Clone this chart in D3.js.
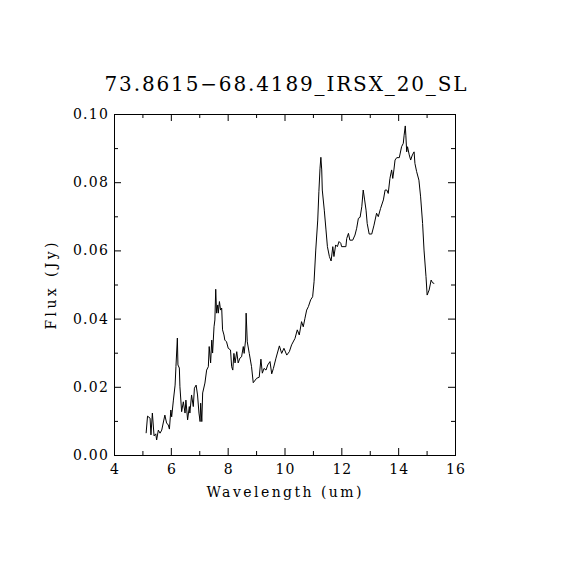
<!DOCTYPE html>
<html>
<head>
<meta charset="utf-8">
<script src="https://cdn.jsdelivr.net/npm/d3@7/dist/d3.min.js"></script>
<style>
  body { margin: 0; background: #fff; }
  svg text { font-family: 'DejaVu Serif', serif; fill: #000; }
</style>
</head>
<body>
<div id="chart"></div>
<script>
// spectrum
var wavelength = [
  5.13, 5.18, 5.27, 5.30, 5.35, 5.41, 5.47, 5.50, 5.56, 5.62, 5.68, 5.79, 5.85, 5.91, 5.95,
  6.00, 6.03, 6.09, 6.15, 6.18, 6.23, 6.25, 6.30, 6.32, 6.38, 6.44, 6.50, 6.53, 6.59, 6.65,
  6.67, 6.73, 6.79, 6.83, 6.89, 6.94, 6.99, 7.03, 7.05, 7.09, 7.12, 7.20, 7.26, 7.32, 7.35,
  7.40, 7.44, 7.47, 7.52, 7.55, 7.58, 7.61, 7.65, 7.67, 7.71, 7.75, 7.79, 7.82, 7.87, 7.90,
  7.96, 8.02, 8.10, 8.14, 8.18, 8.22, 8.26, 8.32, 8.37, 8.43, 8.49, 8.55, 8.58, 8.63, 8.65,
  8.69, 8.76, 8.84, 8.90, 9.02, 9.11, 9.17, 9.22, 9.28, 9.35, 9.41, 9.49, 9.55, 9.61, 9.70,
  9.82, 9.90, 9.98, 10.08, 10.17, 10.25, 10.37, 10.45, 10.52, 10.60, 10.66, 10.72, 10.78, 10.84, 10.92,
  10.99, 11.04, 11.10, 11.17, 11.21, 11.25, 11.28, 11.31, 11.33, 11.40, 11.46, 11.51, 11.58, 11.64, 11.70,
  11.74, 11.80, 11.86, 11.92, 11.98, 12.01, 12.16, 12.19, 12.25, 12.30, 12.40, 12.48, 12.54, 12.60, 12.66,
  12.72, 12.77, 12.82, 12.87, 12.91, 12.98, 13.07, 13.15, 13.24, 13.30, 13.38, 13.48, 13.54, 13.60, 13.65,
  13.71, 13.77, 13.81, 13.85, 13.89, 13.95, 14.04, 14.12, 14.18, 14.21, 14.25, 14.27, 14.30, 14.33, 14.39,
  14.44, 14.50, 14.56, 14.59, 14.65, 14.73, 14.79, 14.86, 14.91, 14.98, 15.02, 15.09, 15.16, 15.21, 15.27
];
var flux = [
  0.0064, 0.0114, 0.0108, 0.0059, 0.0123, 0.0056, 0.0062, 0.0044, 0.0073, 0.0064, 0.0073, 0.0117, 0.0094, 0.0088, 0.0076,
  0.0132, 0.0112, 0.0161, 0.0205, 0.0259, 0.0343, 0.0264, 0.0255, 0.0200, 0.0127, 0.0156, 0.0123, 0.0161, 0.0103, 0.0142,
  0.0123, 0.0176, 0.0142, 0.0196, 0.0205, 0.0176, 0.0123, 0.0098, 0.0152, 0.0098, 0.0182, 0.0211, 0.0249, 0.0259, 0.0318,
  0.0270, 0.0337, 0.0299, 0.0376, 0.0396, 0.0486, 0.0416, 0.0440, 0.0416, 0.0450, 0.0425, 0.0431, 0.0367, 0.0352, 0.0337,
  0.0332, 0.0313, 0.0308, 0.0259, 0.0249, 0.0298, 0.0270, 0.0303, 0.0270, 0.0284, 0.0288, 0.0318, 0.0298, 0.0337, 0.0416,
  0.0332, 0.0298, 0.0259, 0.0212, 0.0225, 0.0228, 0.0281, 0.0240, 0.0254, 0.0249, 0.0264, 0.0274, 0.0238, 0.0254, 0.0284,
  0.0320, 0.0298, 0.0313, 0.0293, 0.0303, 0.0323, 0.0342, 0.0367, 0.0352, 0.0391, 0.0376, 0.0401, 0.0425, 0.0435, 0.0455,
  0.0464, 0.0508, 0.0601, 0.0689, 0.0772, 0.0841, 0.0873, 0.0836, 0.0777, 0.0718, 0.0660, 0.0611, 0.0582, 0.0569, 0.0611,
  0.0582, 0.0616, 0.0611, 0.0626, 0.0621, 0.0611, 0.0611, 0.0635, 0.0650, 0.0630, 0.0630, 0.0645, 0.0665, 0.0694, 0.0697,
  0.0728, 0.0777, 0.0748, 0.0718, 0.0679, 0.0648, 0.0648, 0.0674, 0.0709, 0.0699, 0.0723, 0.0748, 0.0777, 0.0777, 0.0767,
  0.0811, 0.0836, 0.0811, 0.0836, 0.0865, 0.0872, 0.0872, 0.0904, 0.0914, 0.0938, 0.0965, 0.0938, 0.0889, 0.0904, 0.0880,
  0.0865, 0.0880, 0.0889, 0.0855, 0.0831, 0.0806, 0.0757, 0.0679, 0.0601, 0.0523, 0.0469, 0.0484, 0.0513, 0.0505, 0.0503
];
var xMajor = [4, 6, 8, 10, 12, 14, 16];
var xMinor = [5, 7, 9, 11, 13, 15];
var yMajor = [0, 0.02, 0.04, 0.06, 0.08, 0.10];
var yMinor = [0.01, 0.03, 0.05, 0.07, 0.09];
var title = '73.8615\u221268.4189_IRSX_20_SL';

var W = 570, H = 570;
var m = { left: 114, top: 114, right: 455, bottom: 455 };

var svg = d3.select('#chart').append('svg')
  .attr('width', W)
  .attr('height', H);

var x = d3.scaleLinear().domain([4, 16]).range([m.left, m.right]);
var y = d3.scaleLinear().domain([0, 0.10]).range([m.bottom, m.top]);

var fmtY = d3.format('.2f');

// major ticks + labels
var bottomAx = svg.append('g').attr('class', 'ax')
  .attr('transform', 'translate(0,' + m.bottom + ')')
  .call(d3.axisBottom(x).tickValues(xMajor).tickSize(-7).tickPadding(9).tickFormat(d3.format('d')));
var leftAx = svg.append('g').attr('class', 'ax')
  .attr('transform', 'translate(' + m.left + ',0)')
  .call(d3.axisLeft(y).tickValues(yMajor).tickSize(-7).tickPadding(5).tickFormat(fmtY));
svg.append('g').attr('class', 'ax')
  .attr('transform', 'translate(0,' + m.top + ')')
  .call(d3.axisTop(x).tickValues(xMajor).tickSize(-7).tickFormat(''));
svg.append('g').attr('class', 'ax')
  .attr('transform', 'translate(' + m.right + ',0)')
  .call(d3.axisRight(y).tickValues(yMajor).tickSize(-7).tickFormat(''));

// minor ticks
svg.append('g').attr('class', 'ax')
  .attr('transform', 'translate(0,' + m.bottom + ')')
  .call(d3.axisBottom(x).tickValues(xMinor).tickSize(-4).tickFormat(''));
svg.append('g').attr('class', 'ax')
  .attr('transform', 'translate(0,' + m.top + ')')
  .call(d3.axisTop(x).tickValues(xMinor).tickSize(-4).tickFormat(''));
svg.append('g').attr('class', 'ax')
  .attr('transform', 'translate(' + m.left + ',0)')
  .call(d3.axisLeft(y).tickValues(yMinor).tickSize(-4).tickFormat(''));
svg.append('g').attr('class', 'ax')
  .attr('transform', 'translate(' + m.right + ',0)')
  .call(d3.axisRight(y).tickValues(yMinor).tickSize(-4).tickFormat(''));

svg.selectAll('.ax .domain').remove();
svg.selectAll('.ax line').attr('stroke', '#000').attr('stroke-width', 1);
svg.selectAll('.ax text')
  .style('font-family', "'DejaVu Serif', serif")
  .style('font-size', '14px')
  .attr('fill', '#000');
leftAx.selectAll('text').style('letter-spacing', '1.2px');
bottomAx.selectAll('text').style('letter-spacing', '1px').attr('dx', '0.5px');

// frame
svg.append('rect')
  .attr('x', m.left + 0.5)
  .attr('y', m.top + 0.5)
  .attr('width', m.right - m.left)
  .attr('height', m.bottom - m.top)
  .attr('fill', 'none')
  .attr('stroke', '#000')
  .attr('stroke-width', 1);

// spectrum
var line = d3.line()
  .x(function (d, i) { return x(wavelength[i]); })
  .y(function (d) { return y(d); });

svg.append('path')
  .datum(flux)
  .attr('d', line)
  .attr('fill', 'none')
  .attr('stroke', '#000')
  .attr('stroke-width', 1);

// labels
svg.append('text')
  .attr('x', 285.5)
  .attr('y', 91)
  .attr('text-anchor', 'middle')
  .attr('textLength', 362)
  .attr('lengthAdjust', 'spacing')
  .style('font-size', '20px')
  .text(title);

svg.append('text')
  .attr('x', 284)
  .attr('y', 497)
  .attr('text-anchor', 'middle')
  .attr('textLength', 155)
  .attr('lengthAdjust', 'spacing')
  .style('font-size', '14px')
  .text('Wavelength (um)');

svg.append('text')
  .attr('transform', 'translate(56,286) rotate(-90)')
  .attr('text-anchor', 'middle')
  .attr('textLength', 87)
  .attr('lengthAdjust', 'spacing')
  .style('font-size', '14px')
  .text('Flux (Jy)');
</script>
</body>
</html>
